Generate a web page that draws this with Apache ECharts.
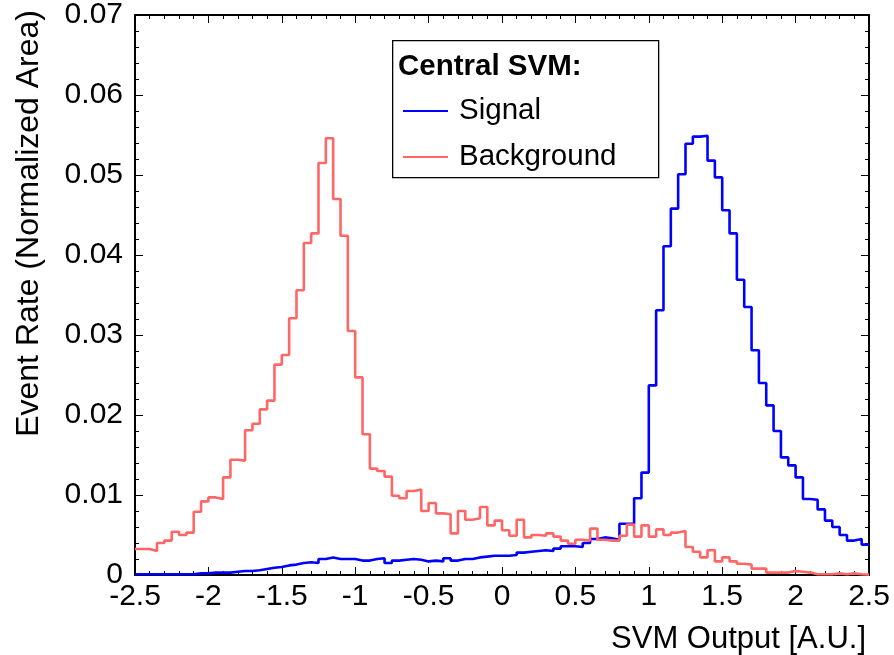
<!DOCTYPE html>
<html>
<head>
<meta charset="utf-8">
<script src="https://cdn.jsdelivr.net/npm/echarts@6/dist/echarts.min.js"></script>
<style>
html,body{margin:0;padding:0;background:#fff;}
#chart{width:894px;height:655px;}
</style>
</head>
<body>
<div id="chart"></div>
<script>
// Histogram binning (100 bins from -2.5 to 2.5)
var binLow = -2.5;
var binHigh = 2.5;
var binCount = 100;

// Signal histogram contents (normalized area), one value per bin
var signalValues = [
  0.0001, 0.0001, 0.0001, 0.0001, 0.0001, 0.0001, 0.0001, 0.0001, 0.0002, 0.0002,
  0.0003, 0.0003, 0.0003, 0.0004, 0.0005, 0.0005, 0.0006, 0.00075, 0.0009, 0.0010,
  0.0012, 0.0013, 0.0015, 0.0016, 0.0015, 0.0020, 0.0022, 0.0020, 0.0020, 0.0020,
  0.0018, 0.0018, 0.0020, 0.0021, 0.0015, 0.0018, 0.0019, 0.0020, 0.0019, 0.0017,
  0.0018, 0.0017, 0.0021, 0.0018, 0.0020, 0.0020, 0.0022, 0.0023, 0.0024, 0.0024,
  0.0024, 0.0025, 0.0028, 0.0029, 0.0030, 0.0031, 0.0030, 0.0033, 0.0036, 0.0036,
  0.0035, 0.0040, 0.0045, 0.0047, 0.0046, 0.0044, 0.0064, 0.0064, 0.0096, 0.0128,
  0.0237, 0.0331, 0.0411, 0.0458, 0.0501, 0.0539, 0.0548, 0.0549, 0.0518, 0.0497,
  0.0456, 0.0427, 0.0369, 0.0335, 0.0281, 0.0240, 0.0212, 0.0180, 0.0147, 0.0137,
  0.0122, 0.0095, 0.0094, 0.0082, 0.0068, 0.0060, 0.0050, 0.0043, 0.0045, 0.0038
];

// Background histogram contents (normalized area), one value per bin
var backgroundValues = [
  0.00325, 0.00325, 0.0030, 0.0040, 0.0043, 0.0054, 0.0050, 0.0053, 0.0079, 0.0092,
  0.0097, 0.0095, 0.0122, 0.0144, 0.0143, 0.0181, 0.0189, 0.0207, 0.0218, 0.0263,
  0.0275, 0.0321, 0.0356, 0.0415, 0.0427, 0.0515, 0.0546, 0.0470, 0.0424, 0.0305,
  0.0247, 0.0176, 0.0133, 0.0130, 0.0123, 0.0099, 0.0096, 0.0105, 0.0107, 0.0080,
  0.0090, 0.0077, 0.0076, 0.0052, 0.0080, 0.0069, 0.0071, 0.0085, 0.0062, 0.0068,
  0.0056, 0.0049, 0.0069, 0.0047, 0.0050, 0.0049, 0.0052, 0.0048, 0.0043, 0.0039,
  0.0044, 0.0043, 0.0058, 0.0044, 0.0043, 0.0043, 0.0049, 0.0063, 0.0048, 0.0062,
  0.0048, 0.0057, 0.0050, 0.0053, 0.0055, 0.0035, 0.0029, 0.0022, 0.0031, 0.0017,
  0.0022, 0.0017, 0.0014, 0.0013, 0.0008, 0.0008, 0.0003, 0.0003, 0.0003, 0.0005,
  0.0004, 0.0003, 0.0001, 0.0001, 0.0001, 0.0002, 0.0001, 0.0002, 0.0001, 0.00005
];

// Axis ticks
var xTicks = ['-2.5', '-2', '-1.5', '-1', '-0.5', '0', '0.5', '1', '1.5', '2', '2.5'];
var yTicks = ['0', '0.01', '0.02', '0.03', '0.04', '0.05', '0.06', '0.07'];

var seriesNames = ['Signal', 'Background'];
var legendTitle = 'Central SVM:';
var xTitle = 'SVM Output [A.U.]';
var yTitle = 'Event Rate (Normalized Area)';

function histPoints(values) {
  var w = (binHigh - binLow) / binCount;
  var pts = values.map(function (v, i) { return [binLow + i * w, v]; });
  pts.push([binHigh, values[values.length - 1]]);
  return pts;
}

var FONT = '"Liberation Sans", Arial, Helvetica, sans-serif';
var chart = echarts.init(document.getElementById('chart'), null, {renderer: 'canvas'});

function axisCommon(showLabels, isX) {
  return {
    axisLine: {show: true, onZero: false, lineStyle: {color: '#000', width: 2}},
    axisTick: {show: true, inside: true, length: 8, lineStyle: {color: '#000', width: 1}},
    minorTick: {show: true, splitNumber: 5, length: 4, lineStyle: {color: '#000', width: 1}},
    splitLine: {show: false},
    minorSplitLine: {show: false},
    axisLabel: showLabels ? {
      show: true, color: '#000', fontFamily: FONT, fontSize: 30,
      margin: isX ? 7 : 12,
      padding: isX ? 0 : [6, 0, 0, 0],
      formatter: function (v) {
        if (isX) {
          var idx = Math.round((v + 2.5) / 0.5);
          return xTicks[idx] !== undefined ? xTicks[idx] : '';
        }
        var j = Math.round(v / 0.01);
        return yTicks[j] !== undefined ? yTicks[j] : '';
      }
    } : {show: false}
  };
}

var xBottom = Object.assign({type: 'value', position: 'bottom', min: -2.5, max: 2.5, interval: 0.5}, axisCommon(true, true));
var xTop = Object.assign({type: 'value', position: 'top', min: -2.5, max: 2.5, interval: 0.5}, axisCommon(false, true));
var yLeft = Object.assign({type: 'value', position: 'left', min: 0, max: 0.07, interval: 0.01}, axisCommon(true, false));
var yRight = Object.assign({type: 'value', position: 'right', min: 0, max: 0.07, interval: 0.01}, axisCommon(false, false));

var option = {
  animation: false,
  backgroundColor: '#fff',
  grid: {left: 135, right: 25, top: 15, bottom: 80, containLabel: false},
  xAxis: [xBottom, xTop],
  yAxis: [yLeft, yRight],
  legend: {
    data: seriesNames,
    orient: 'vertical',
    left: 403,
    top: 96,
    padding: 0,
    itemWidth: 45,
    itemHeight: 2,
    itemGap: 16,
    icon: 'rect',
    selectedMode: false,
    textStyle: {color: '#000', fontFamily: FONT, fontSize: 29.5, lineHeight: 30, padding: [0, 0, 0, 6]}
  },
  graphic: [
    {type: 'rect', left: 392, top: 40, z: 1, silent: true,
     shape: {x: 0, y: 0, width: 266, height: 137},
     style: {fill: 'rgba(0,0,0,0)', stroke: '#000', lineWidth: 1.3}},
    {type: 'text', x: 398, y: 67, z: 5, silent: true,
     style: {text: legendTitle, fill: '#000', font: 'bold 29.5px ' + FONT, textAlign: 'left', textVerticalAlign: 'middle'}},
    {type: 'text', x: 866, y: 639, z: 5, silent: true,
     style: {text: xTitle, fill: '#000', font: '31px ' + FONT, textAlign: 'right', textVerticalAlign: 'middle'}},
    {type: 'text', x: 29, y: 10, rotation: Math.PI / 2, z: 5, silent: true,
     style: {text: yTitle, fill: '#000', font: '32px ' + FONT, textAlign: 'right', textVerticalAlign: 'middle'}}
  ],
  series: [
    {name: seriesNames[0], type: 'line', step: 'end', xAxisIndex: 0, yAxisIndex: 0,
     data: histPoints(signalValues), showSymbol: false, symbol: 'none',
     lineStyle: {color: '#0000ff', width: 2.6}, itemStyle: {color: '#0000ff'}, z: 3},
    {name: seriesNames[1], type: 'line', step: 'end', xAxisIndex: 0, yAxisIndex: 0,
     data: histPoints(backgroundValues), showSymbol: false, symbol: 'none',
     lineStyle: {color: '#ff6666', width: 2.6}, itemStyle: {color: '#ff6666'}, z: 4}
  ]
};
chart.setOption(option);
</script>
</body>
</html>
